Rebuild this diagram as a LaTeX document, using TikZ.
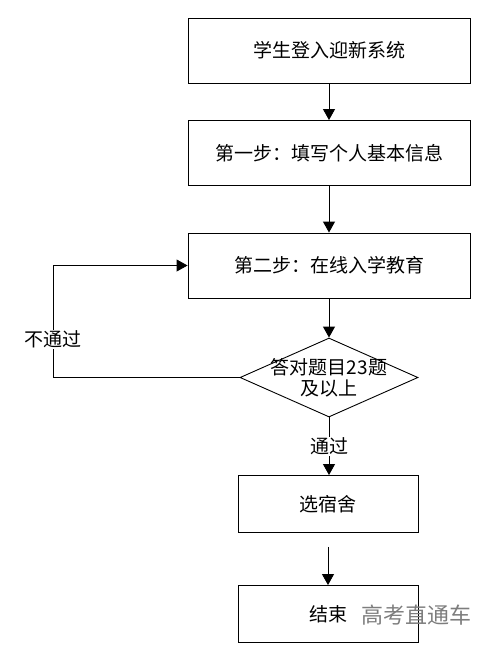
\documentclass[tikz,border=0pt]{standalone}
\usepackage{fontspec}
\setmainfont{Noto Sans CJK SC}
\usepackage{tikz}
\usetikzlibrary{arrows.meta}
\usetikzlibrary{shapes.geometric}
\usepackage{xcolor}
\definecolor{watermarkgray}{RGB}{125,125,125}
\newcommand{\widthbox}{282pt}
\newcommand{\widthsmallbox}{180pt}
\newcommand{\sizetext}{\fontsize{19pt}{21pt}\selectfont}
\tikzset{
    common/.style={draw, line width=0.9pt, inner sep=0pt, font=\sizetext},
    stepbox/.style={common, rectangle, minimum width=\widthbox, minimum height=65pt},
    smallbox/.style={common, rectangle, minimum width=\widthsmallbox, minimum height=57pt},
    decision/.style={common, diamond, minimum width=178pt, minimum height=79pt},
    flow/.style={-{Triangle[width=12pt, length=11pt]}, line width=0.9pt},
    caption/.style={fill=white, inner sep=1pt, font=\sizetext},
}
\begin{document}
\begin{tikzpicture}[x=1pt, y=-1pt]
    \useasboundingbox (0,0) rectangle (500,657);
    \path
        (329,50.5) node[stepbox] (login) {学生登入迎新系统}
        (329,153) node[stepbox] (step-one) {第一步：填写个人基本信息}
        (329,265.5) node[stepbox] (step-two) {第二步：在线入学教育}
        (329,377.5) node[decision] (check) {}
        (check.center) node[caption, fill=none, align=center] (check-text) {答对题目23题\\及以上}
        (328,504) node[smallbox] (dorm) {选宿舍}
        (328,614) node[smallbox] (finish) {结束}
        (53,377.5) coordinate (retry-corner)
        (416,615) node[font=\fontsize{22pt}{24pt}\selectfont, text=watermarkgray] (watermark) {高考直通车};

    \draw[flow] (login) -- (step-one);
    \draw[flow] (step-one) -- (step-two);
    \draw[flow] (step-two) -- (check);
    \draw[flow] (check.south) -- node[caption, midway] (pass) {通过} (check.south |- dorm.north);
    \draw[flow, shorten <=14pt] (dorm.south) -- (dorm.south |- finish.north);
    \draw[flow] (check.west) -- (retry-corner) |- node[caption, pos=0.17] (fail) {不通过} (step-two.west);
\end{tikzpicture}
\end{document}
